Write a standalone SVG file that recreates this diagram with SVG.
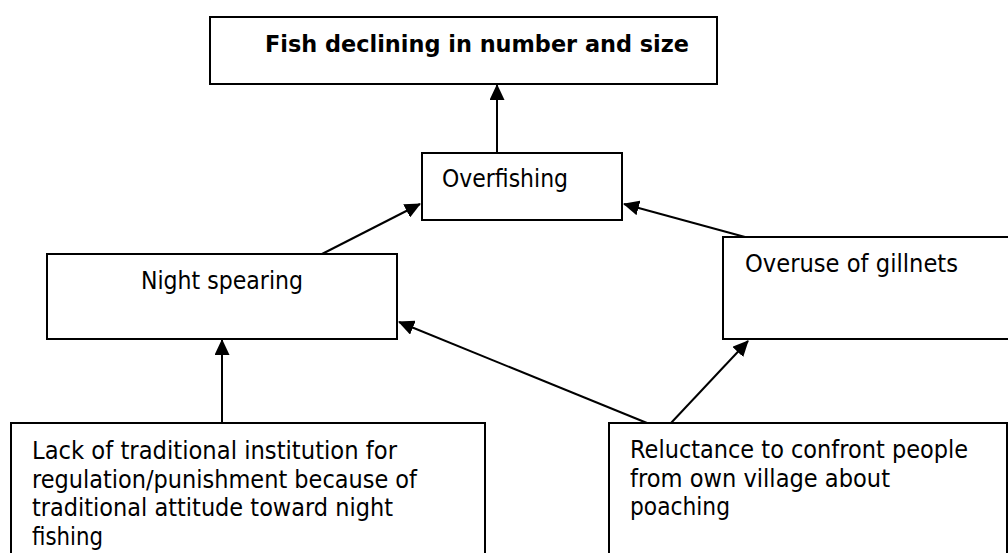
<svg xmlns="http://www.w3.org/2000/svg" width="1008" height="553" viewBox="0 0 1008 553">
<style>
.box{fill:#fff;stroke:#000;stroke-width:2}
.t{font-family:"DejaVu Sans","Verdana",sans-serif;font-size:24px;fill:#000}
.b{font-weight:bold;font-size:23px}
.c{stroke:#000;stroke-width:2;fill:none;marker-end:url(#ah)}
</style>
<defs>
<marker id="ah" viewBox="0 0 16 15" refX="15" refY="7.5" markerWidth="16" markerHeight="15" markerUnits="userSpaceOnUse" orient="auto">
<path d="M0,0 L16,7.5 L0,15 z" fill="#000"/>
</marker>
</defs>
<rect width="1008" height="553" fill="#fff"/>
<g id="connectors">
<line class="c" x1="497" y1="153" x2="497" y2="85"/>
<line class="c" x1="322" y1="254" x2="420" y2="204"/>
<line class="c" x1="745" y1="237" x2="624" y2="204"/>
<line class="c" x1="647" y1="423" x2="399" y2="322"/>
<line class="c" x1="671" y1="423" x2="748" y2="341"/>
<line class="c" x1="222" y1="423" x2="222" y2="340"/>
</g>
<g id="node-fish">
<rect class="box" x="210" y="17" width="507" height="67"/>
<text class="t b" x="265" y="52" textLength="424" lengthAdjust="spacingAndGlyphs">Fish declining in number and size</text>
</g>
<g id="node-overfishing">
<rect class="box" x="422" y="153" width="200" height="67"/>
<text class="t" x="442" y="187" textLength="126" lengthAdjust="spacingAndGlyphs">Overfishing</text>
</g>
<g id="node-night">
<rect class="box" x="47" y="254" width="350" height="85"/>
<text class="t" x="141" y="289" textLength="162" lengthAdjust="spacingAndGlyphs">Night spearing</text>
</g>
<g id="node-gillnets">
<rect class="box" x="723" y="237" width="290" height="102"/>
<text class="t" x="745" y="272" textLength="213" lengthAdjust="spacingAndGlyphs">Overuse of gillnets</text>
</g>
<g id="node-lack">
<rect class="box" x="11" y="423" width="474" height="140"/>
<text class="t" x="32" y="459" textLength="365" lengthAdjust="spacingAndGlyphs">Lack of traditional institution for</text>
<text class="t" x="32" y="488" textLength="385" lengthAdjust="spacingAndGlyphs">regulation/punishment because of</text>
<text class="t" x="32" y="516" textLength="361" lengthAdjust="spacingAndGlyphs">traditional attitude toward night</text>
<text class="t" x="32" y="545" textLength="71" lengthAdjust="spacingAndGlyphs">fishing</text>
</g>
<g id="node-reluctance">
<rect class="box" x="609" y="423" width="398" height="140"/>
<text class="t" x="630" y="458" textLength="338" lengthAdjust="spacingAndGlyphs">Reluctance to confront people</text>
<text class="t" x="630" y="487" textLength="260" lengthAdjust="spacingAndGlyphs">from own village about</text>
<text class="t" x="630" y="515" textLength="100" lengthAdjust="spacingAndGlyphs">poaching</text>
</g>
</svg>
